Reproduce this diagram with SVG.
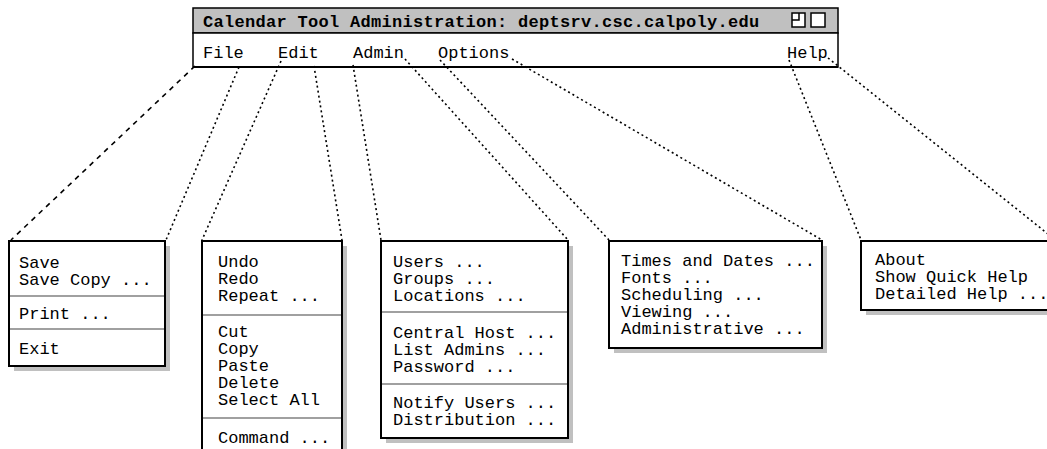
<svg xmlns="http://www.w3.org/2000/svg" width="1047" height="449" viewBox="0 0 1047 449">
  <style>
    .mono { font-family: "Liberation Mono", "Courier New", monospace; font-size: 17px; fill: #000; }
    .title { font-weight: bold; letter-spacing: 0.3px; }
    .box { fill: #fff; stroke: #000; stroke-width: 2; }
    .shadow { fill: #c0c0c0; stroke: none; }
    .sep { stroke: #808080; stroke-width: 1.5; }
    .dot { fill: none; stroke: #000; stroke-width: 1.6; stroke-dasharray: 2 3; }
    .dash { fill: none; stroke: #000; stroke-width: 1.6; stroke-dasharray: 5 5; }
  </style>

  <!-- application window: title bar and menu bar -->
  <g id="window">
    <rect x="193" y="8" width="645" height="25" fill="#c0c0c0" stroke="#000" stroke-width="1.5"/>
    <rect x="193" y="33" width="645" height="34" fill="#fff" stroke="#000" stroke-width="1.5"/>
    <line x1="193" y1="67" x2="838" y2="67" stroke="#000" stroke-width="2"/>
    <text class="mono title" x="203" y="27">Calendar Tool Administration: deptsrv.csc.calpoly.edu</text>
    <!-- window buttons -->
    <rect x="792" y="13" width="13" height="14" fill="#fff" stroke="#000" stroke-width="1.5"/>
    <path d="M792 20 H799 V13" fill="none" stroke="#000" stroke-width="1.5"/>
    <rect x="811" y="13" width="14" height="14" fill="#fff" stroke="#000" stroke-width="1.5"/>
    <text class="mono" x="203" y="58">File</text>
    <text class="mono" x="278" y="58">Edit</text>
    <text class="mono" x="353" y="58">Admin</text>
    <text class="mono" x="438" y="58">Options</text>
    <text class="mono" x="787" y="58">Help</text>
  </g>

  <!-- lines from each menu title to its pull-down -->
  <g id="connectors">
    <line class="dash" x1="195" y1="66" x2="11" y2="240"/>
    <line class="dot" x1="239" y1="67" x2="166" y2="240"/>
    <line class="dot" x1="281" y1="61" x2="202" y2="240"/>
    <line class="dot" x1="314" y1="66" x2="342" y2="240"/>
    <line class="dot" x1="353" y1="65" x2="381" y2="240"/>
    <line class="dot" x1="405" y1="59" x2="568" y2="240"/>
    <line class="dot" x1="440" y1="60" x2="609" y2="240"/>
    <line class="dot" x1="512" y1="59" x2="822" y2="240"/>
    <line class="dot" x1="789" y1="60" x2="861" y2="240"/>
    <line class="dot" x1="828" y1="58" x2="1058" y2="242"/>
  </g>

  <g id="menu-file">
    <rect class="shadow" x="14" y="246" width="156" height="125"/>
    <rect class="box" x="9" y="241" width="156" height="125"/>
    <line class="sep" x1="10" y1="296" x2="164" y2="296"/>
    <line class="sep" x1="10" y1="329" x2="164" y2="329"/>
    <text class="mono" x="19" y="268">Save</text>
    <text class="mono" x="19" y="285">Save Copy ...</text>
    <text class="mono" x="19" y="319">Print ...</text>
    <text class="mono" x="19" y="354">Exit</text>
  </g>

  <g id="menu-edit">
    <rect class="shadow" x="207" y="246" width="140" height="220"/>
    <rect class="box" x="202" y="241" width="140" height="220"/>
    <line class="sep" x1="203" y1="315" x2="341" y2="315"/>
    <line class="sep" x1="203" y1="418" x2="341" y2="418"/>
    <text class="mono" x="218" y="267">Undo</text>
    <text class="mono" x="218" y="284">Redo</text>
    <text class="mono" x="218" y="301">Repeat ...</text>
    <text class="mono" x="218" y="337">Cut</text>
    <text class="mono" x="218" y="354">Copy</text>
    <text class="mono" x="218" y="371">Paste</text>
    <text class="mono" x="218" y="388">Delete</text>
    <text class="mono" x="218" y="405">Select All</text>
    <text class="mono" x="218" y="443">Command ...</text>
  </g>

  <g id="menu-admin">
    <rect class="shadow" x="386" y="246" width="187" height="197"/>
    <rect class="box" x="381" y="241" width="187" height="197"/>
    <line class="sep" x1="382" y1="312" x2="567" y2="312"/>
    <line class="sep" x1="382" y1="384" x2="567" y2="384"/>
    <text class="mono" x="393" y="267">Users ...</text>
    <text class="mono" x="393" y="284">Groups ...</text>
    <text class="mono" x="393" y="301">Locations ...</text>
    <text class="mono" x="393" y="338">Central Host ...</text>
    <text class="mono" x="393" y="355">List Admins ...</text>
    <text class="mono" x="393" y="372">Password ...</text>
    <text class="mono" x="393" y="408">Notify Users ...</text>
    <text class="mono" x="393" y="425">Distribution ...</text>
  </g>

  <g id="menu-options">
    <rect class="shadow" x="614" y="246" width="213" height="107"/>
    <rect class="box" x="609" y="241" width="213" height="107"/>
    <text class="mono" x="621" y="266">Times and Dates ...</text>
    <text class="mono" x="621" y="283">Fonts ...</text>
    <text class="mono" x="621" y="300">Scheduling ...</text>
    <text class="mono" x="621" y="317">Viewing ...</text>
    <text class="mono" x="621" y="334">Administrative ...</text>
  </g>

  <g id="menu-help">
    <rect class="shadow" x="866" y="246" width="200" height="69"/>
    <rect class="box" x="861" y="241" width="200" height="69"/>
    <text class="mono" x="875" y="265">About</text>
    <text class="mono" x="875" y="282">Show Quick Help</text>
    <text class="mono" x="875" y="299">Detailed Help ...</text>
  </g>
</svg>
